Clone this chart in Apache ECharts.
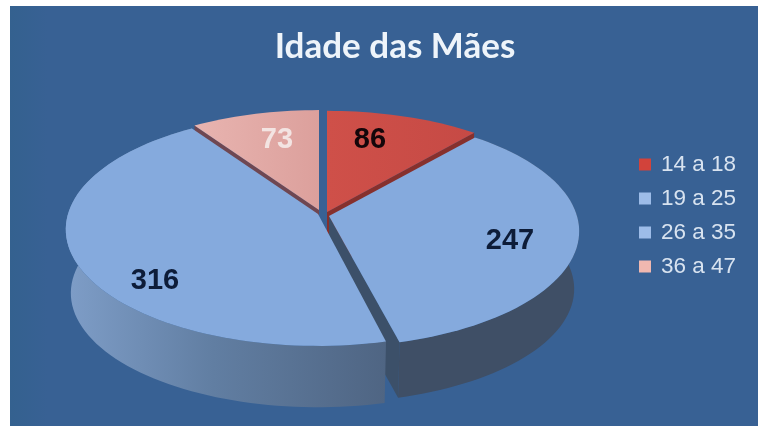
<!DOCTYPE html>
<html><head><meta charset="utf-8">
<style>html,body{margin:0;padding:0;background:#fff}#c{width:758px;height:426px}</style>
<script src="https://cdn.jsdelivr.net/npm/echarts@6/dist/echarts.min.js"></script>
</head><body><div id="c"></div>
<script>
const titleText = 'Idade das Mães';
const categories = ['14 a 18', '19 a 25', '26 a 35', '36 a 47'];
const values = [86, 247, 316, 73];

// appearance of each slice, in category order
const faceColors = [
  ['#cf5049', '#c64a45'], ['#85aadd', '#85aadd'], ['#85aadd', '#85aadd'], ['#e8b4b0', '#dca09c']
];
const legendColors = ['#d2433b', '#9dbce8', '#9dbce8', '#f0b8b0'];
const labelColors = ['#14060a', '#0d1c38', '#0d1c38', '#f3e4e2'];
const apexes = [[327, 212], [329, 216], [318, 214], [319, 210]];
const radii = [250, 248, 250, 247];
const depths = [58, 58, 64, 60];
const startTrims = [0, 0, -1, 0];
const endTrims = [0, 1.7, 0, 0];
const labelPos = [[370, 140], [510, 241], [155, 281], [277, 140]];
const drawOrder = [0, 3, 1, 2];

const total = values.reduce((a, b) => a + b, 0);
const P = 0.132, K = 115.4 / 252;

function warp(deg) { return deg - 2.5 * Math.sin(2 * deg * Math.PI / 180); }
function project(idx, deg, sc) {
  const t = warp(deg) * Math.PI / 180, R = radii[idx] * sc;
  const d = 1 + P * Math.cos(t);
  return [apexes[idx][0] + R * Math.sin(t) / d, apexes[idx][1] - R * K * Math.cos(t) / d];
}
function arc(idx, a0, a1, sc, dy) {
  const pts = [], n = Math.max(8, Math.round(Math.abs(a1 - a0) / 2));
  for (let i = 0; i <= n; i++) {
    const p = project(idx, a0 + (a1 - a0) * i / n, sc);
    pts.push([p[0], p[1] + dy]);
  }
  return pts;
}
function renderSlice(params, api) {
  const idx = api.value(0), a0 = api.value(1) + startTrims[idx], a1 = api.value(2) - endTrims[idx];
  const dep = depths[idx], apex = apexes[idx], children = [];
  const low = [apex[0], apex[1] + dep];
  const addWall = (deg, color) => {
    const top = project(idx, deg, 1), bot = project(idx, deg, 0.98);
    children.push({ type: 'polygon', shape: { points: [apex, top, [bot[0], bot[1] + dep], low] },
      style: { fill: color } });
  };
  if (idx === 2) {
    children.push({ type: 'polygon',
      shape: { points: arc(idx, a0, a1, 1, 0).concat(arc(idx, a1, a0, 0.98, dep)) },
      style: { fill: new echarts.graphic.LinearGradient(72, 0, 386, 0, [
        { offset: 0, color: '#7d9cc6' }, { offset: 0.45, color: '#617ea2' }, { offset: 1, color: '#4f6583' }], true) } });
  } else if (idx === 1) {
    children.push({ type: 'polygon',
      shape: { points: arc(idx, a0, a1, 1, 0).concat(arc(idx, a1, a0, 0.98, dep)) },
      style: { fill: '#3f4f66' } });
    addWall(a1, '#3c5069');
  } else if (idx === 0) {
    addWall(a1, '#86302d');
  } else {
    addWall(a0, '#6f4752');
  }
  const pts = [apex].concat(arc(idx, a0, a1, 1, 0));
  children.push({ type: 'polygon', shape: { points: pts },
    style: { fill: new echarts.graphic.LinearGradient(0, 0, 1, 0, [
      { offset: 0, color: faceColors[idx][0] }, { offset: 1, color: faceColors[idx][1] }]) } });
  children.push({ type: 'text', style: {
    text: String(api.value(3)), x: labelPos[idx][0], y: labelPos[idx][1], align: 'center', verticalAlign: 'middle',
    font: 'bold 29px "Liberation Sans", Arial, sans-serif', fill: labelColors[idx] } });
  return { type: 'group', children };
}

let acc = 0;
const spans = values.map((v, i) => {
  const a0 = acc / total * 360; acc += v;
  return [i, a0, acc / total * 360, v];
});
const series = categories.map((name, i) => ({
  type: 'custom', name, coordinateSystem: 'none', renderItem: renderSlice, clip: false, silent: true,
  animation: false, z: 2 + drawOrder.indexOf(i), color: legendColors[i],
  itemStyle: { color: legendColors[i] },
  encode: { value: [0, 1, 2, 3] },
  data: [spans[i]]
}));

const chart = echarts.init(document.getElementById('c'), null, { renderer: 'canvas' });
chart.setOption({
  animation: false,
  backgroundColor: '#fff',
  graphic: [{
    type: 'rect', z: -10, shape: { x: 10, y: 6, width: 748, height: 420 },
    style: { fill: new echarts.graphic.LinearGradient(0, 0, 1, 0, [
      { offset: 0, color: '#34618f' }, { offset: 0.05, color: '#386194' }, { offset: 1, color: '#386194' }]) }
  }],
  title: { text: titleText, left: 390, top: 24, textAlign: 'center',
    textStyle: { fontFamily: 'Lato, "Open Sans", sans-serif', fontWeight: 'bold', fontSize: 35, color: '#eef4fa' } },
  legend: { orient: 'vertical', left: 634, top: 147, itemWidth: 12, itemHeight: 12, itemGap: 9, icon: 'rect',
    data: categories.map((name, i) => ({ name, itemStyle: { color: legendColors[i] } })),
    textStyle: { fontFamily: '"Liberation Sans", Arial, sans-serif', fontSize: 22.5, color: '#d8e3f0', padding: [0, 0, 0, 5], lineHeight: 25 } },
  series
});
</script></body></html>
